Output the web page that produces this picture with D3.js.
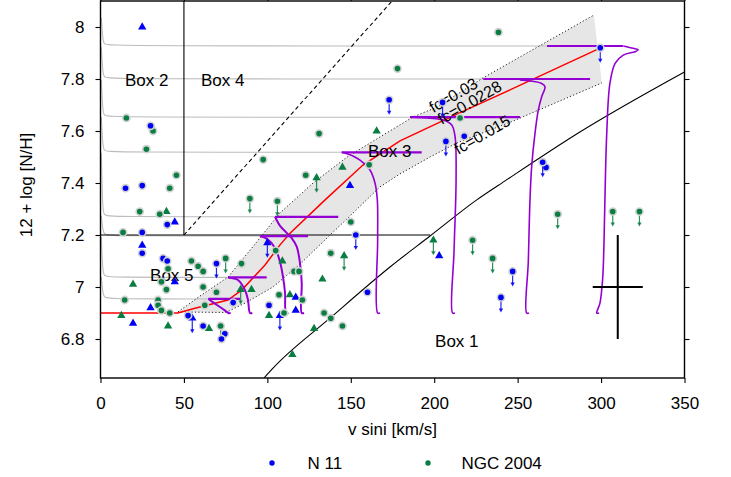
<!DOCTYPE html>
<html><head><meta charset="utf-8">
<script src="https://cdn.jsdelivr.net/npm/d3@7"></script>
<style>body{margin:0;background:#fff}svg{display:block;font-family:"Liberation Sans",Arial,Helvetica,sans-serif}</style>
</head><body><svg id="c" width="731" height="477"></svg>
<script>
// ---------- data ----------
const xTicks=[0,50,100,150,200,250,300,350];
const yTicks=[6.8,7,7.2,7.4,7.6,7.8,8];
const seriesNames=["N 11","NGC 2004"];

const n11Dots=[[30,7.62],[15,7.38],[25,7.39],[40,7.24],[25,7.21],[25,7.13],[37.5,7.11],[40,7.10],[52.5,6.89],[61.5,6.85],[74.5,6.82],[72.5,6.80],[79.5,6.94],[101,6.93],[160,6.98],[218,7.58],[267,7.46]];
const n11DotsUL=[[69.5,7.09],[153,7.20],[173,7.72],[205,7.71],[207,7.56],[247,7.06],[240,6.96],[299.5,7.92],[265,7.48]];
const n11Tri=[[25,8.0],[44.5,7.25],[25,7.16],[44.5,7.02],[30,6.92],[19.5,6.86],[149.5,7.39],[203,7.12],[117,6.96],[117,6.91]];
const n11TriUL=[[55,6.88],[100,7.17],[107.5,6.89]];

const ngcDots=[[15.5,7.65],[31.5,7.60],[27.5,7.53],[97.5,7.49],[45.5,7.43],[41.5,7.38],[23.5,7.29],[35.5,7.28],[13.5,7.21],[54.5,7.10],[58.5,7.08],[61.5,7.06],[84.5,7.09],[40.5,7.07],[36.5,7.02],[39.5,6.99],[61.5,7.00],[69.5,6.98],[14.5,6.95],[34.5,6.95],[34.5,6.93],[36.5,6.91],[41.5,6.90],[62.5,6.93],[105,7.14],[116,7.06],[119,7.06],[107,6.97],[110,6.90],[121,6.95],[134,6.90],[138,6.88],[145,6.85],[138,7.13],[150,7.25],[161,7.47],[123,7.43],[131,7.59],[178,7.84],[215.5,7.65],[238.5,7.98]];
const ngcDotsUL=[[89.5,7.34],[106,7.33],[75,7.11],[72,6.85],[223,7.18],[235,7.11],[274,7.28],[307,7.29],[323,7.29]];
const ngcTri=[[39.5,7.29],[19.5,7.01],[12.5,6.89],[40.5,6.85],[65,6.84],[90.5,6.99],[109,7.10],[113.5,6.97],[101,6.89],[133,7.03],[128,6.84],[115,6.74],[145,7.46],[165.5,7.60]];
const ngcTriUL=[[84,6.99],[129.5,7.42],[146,7.12],[199.5,7.18]];

// evolutionary tracks
const trackLevel=[6.954,7.037,7.196,7.270,7.518,7.653,7.80,7.927];
const trackPurpleH=[[64.6,83.6],[76.6,99.6],[95.6,124.4],[104.6,142.5],[144.6,192.5],[185.5,251.4],[229.4,293.4],[267.6,313.1]];
const greyTop=[7.038,7.192,7.273,7.515,7.654,7.796,7.923,8.035];
const trackCurves=[
 [[64.6,6.954],[70,6.93],[74.5,6.91],[76.6,6.9],[78,6.9]],
 [[76.4,7.037],[82.4,7.027],[86.6,6.988],[88.4,6.95],[89.6,6.9],[91,6.9]],
 [[95.6,7.196],[99.8,7.185],[104.6,7.15],[107.6,7.096],[109.4,7.038],[110.6,6.977],[111.2,6.9],[112.6,6.9]],
 [[104.6,7.27],[107.6,7.235],[111.6,7.208],[114.6,7.188],[117.6,7.155],[119.6,7.09],[120.6,7.015],[120.6,6.9],[122,6.9]],
 [[144.6,7.518],[151.3,7.504],[155.5,7.488],[161.5,7.45],[164.5,7.40],[165.9,7.335],[166.1,7.181],[166.1,6.9],[167.5,6.9]],
 [[185.5,7.653],[197.5,7.649],[205.3,7.642],[210.5,7.623],[212.5,7.578],[213.1,7.412],[211.9,7.142],[211,6.9],[212.4,6.9]],
 [[251.3,7.796],[264.4,7.783],[266.4,7.77],[264.4,7.732],[262.4,7.681],[260.4,7.591],[258.4,7.463],[257.4,7.335],[256.4,7.1],[255.4,6.9],[256.8,6.9]],
 [[313.3,7.927],[319.3,7.918],[322.3,7.912],[320.4,7.905],[313.3,7.892],[308.4,7.86],[305.3,7.783],[303.4,7.591],[302.3,7.335],[301.7,7.155],[300.9,7.027],[299.3,6.937],[297.4,6.9],[298.8,6.9]]
];

// fc band and central relation
const bandUpper=[[46.4,6.904],[59.6,6.965],[76.4,7.038],[92.6,7.165],[107.6,7.285],[127.4,7.40],[147.8,7.50],[167.5,7.577],[187.3,7.654],[201.7,7.692],[229.2,7.804],[295.7,8.046]];
const bandLower=[[46.4,6.904],[75.2,6.902],[86.6,6.938],[103.4,7.0],[119.6,7.088],[137.6,7.20],[149.5,7.273],[167.5,7.385],[179.5,7.435],[197.5,7.50],[213.6,7.554],[247.2,7.638],[300.5,7.785]];
const fcMid=[[0,6.9],[46.4,6.9],[56.6,6.918],[76.4,6.95],[84.8,6.989],[98.6,7.085],[107.6,7.162],[113.6,7.207],[134.6,7.335],[157.3,7.469],[179.5,7.562],[204.7,7.638],[221.5,7.688],[245.4,7.758],[299.4,7.919]];

// box boundaries
const box1Curve=[[98,6.65],[103.4,6.688],[137.5,6.88],[173.5,7.077],[197.5,7.196],[225.5,7.335],[243.4,7.412],[287.3,7.596],[350,7.827]];
const boxHLine=[[0,7.2],[197.5,7.2]];
const boxVLine=[[50,7.2],[50,8.1]];
const boxDashed=[[50,7.2],[174.7,8.1]];
const errCenter=[310,7.0];
const errHalf=[15,0.2];

const boxLabels=[["Box 1",200.5,6.769],["Box 2",14.7,7.773],["Box 3",160.3,7.5],["Box 4",60.2,7.773],["Box 5",29.7,7.023]];
const fcLabels=[["fc=0.03",199.4,7.668],["fc=0.0228",204.5,7.623],["fc=0.015",214.4,7.508]];

// ---------- drawing ----------
const svg=d3.select("#c");
const L=100.5,R=684.5,T=1,B=378;
const x=d3.scaleLinear().domain([0,350]).range([L,R]);
const y=d3.scaleLinear().domain([6.65,8.1]).range([B,T]);
const BLUE="#0000f5", GREEN="#0a7d42", PURPLE="#9400d3";

svg.append("defs").append("clipPath").attr("id","clip")
  .append("rect").attr("x",L).attr("y",T).attr("width",R-L).attr("height",B-T);
const g=svg.append("g").attr("clip-path","url(#clip)");
const line=d3.line().x(d=>x(d[0])).y(d=>y(d[1]));

// band
const bandPoly=bandUpper.concat(bandLower.slice().reverse());
g.append("path").attr("d",line(bandPoly)+"Z").attr("fill","#e6e6e6").attr("stroke","none");

// grey track continuations
trackLevel.forEach((n,i)=>{
  const pts=[[trackPurpleH[i][0],n],[5,n],[2,n+0.006],[1.3,n+0.03],[0.5,greyTop[i]]];
  g.append("path").attr("d",d3.line().x(d=>x(d[0])).y(d=>y(d[1])).curve(d3.curveBasis)(pts))
   .attr("fill","none").attr("stroke","#bcbcbc").attr("stroke-width",1.1);
});

// box lines
g.append("path").attr("fill","none").attr("stroke","#000").attr("stroke-width",1.1)
  .attr("d",d3.line().x(d=>x(d[0])).y(d=>y(d[1])).curve(d3.curveMonotoneX)(box1Curve));
g.append("path").attr("d",line(boxHLine)).attr("stroke","#000").attr("stroke-width",1.1);
g.append("path").attr("d",line(boxVLine)).attr("stroke","#000").attr("stroke-width",1.1);
g.append("path").attr("d",line(boxDashed)).attr("stroke","#000").attr("stroke-width",1.1).attr("stroke-dasharray","4,3");

// dotted band edges
[bandUpper,bandLower].forEach(b=>{
  g.append("path").attr("d",line(b)).attr("fill","none").attr("stroke","#222").attr("stroke-width",1).attr("stroke-dasharray","1.2,2.2");
});

// central relation
g.append("path").attr("d",line(fcMid)).attr("fill","none").attr("stroke","#ff0000").attr("stroke-width",1.5);

// purple tracks
trackLevel.forEach((n,i)=>{
  g.append("path").attr("d",line([[trackPurpleH[i][0],n],[trackPurpleH[i][1],n]]))
   .attr("stroke",PURPLE).attr("stroke-width",2.2);
  g.append("path").attr("d",d3.line().x(d=>x(d[0])).y(d=>y(d[1])).curve(d3.curveCatmullRom.alpha(0.5))(trackCurves[i]))
   .attr("fill","none").attr("stroke",PURPLE).attr("stroke-width",i<4?2:1.6);
});

// error cross
g.append("path").attr("d",line([[errCenter[0],errCenter[1]-errHalf[1]],[errCenter[0],errCenter[1]+errHalf[1]]])).attr("stroke","#000").attr("stroke-width",2);
g.append("path").attr("d",line([[errCenter[0]-errHalf[0],errCenter[1]],[errCenter[0]+errHalf[0],errCenter[1]]])).attr("stroke","#000").attr("stroke-width",2);

// texts in plot
boxLabels.forEach(b=>{
  g.append("text").attr("x",x(b[1])).attr("y",y(b[2])).attr("font-size",17).attr("fill","#000").text(b[0]);
});
fcLabels.forEach(b=>{
  g.append("text").attr("transform",`translate(${x(b[1])},${y(b[2])}) rotate(-30)`).attr("font-size",16).attr("fill","#000").text(b[0]);
});

// markers
const pg=svg.append("g").attr("clip-path","url(#clip)");
function arrow(px,py,col){
  pg.append("line").attr("x1",px).attr("x2",px).attr("y1",py+2).attr("y2",py+13)
    .attr("stroke",col).attr("stroke-width",1.2).attr("opacity",0.85);
  pg.append("path").attr("d",`M${px-2.2},${py+11}L${px+2.2},${py+11}L${px},${py+15}Z`).attr("fill",col).attr("opacity",0.85);
}
function dots(arr,col,ul){
  arr.forEach(d=>{
    const px=x(d[0]),py=y(d[1]);
    if(ul) arrow(px,py,col);
    pg.append("circle").attr("cx",px).attr("cy",py).attr("r",3.6)
      .attr("fill",col).attr("stroke","#d2d2d2").attr("stroke-width",1.6);
  });
}
const tri=d3.symbol().type(d3.symbolTriangle).size(30);
function tris(arr,col,ul){
  arr.forEach(d=>{
    const px=x(d[0]),py=y(d[1]);
    if(ul) arrow(px,py,col);
    pg.append("path").attr("d",tri()).attr("transform",`translate(${px},${py})`).attr("fill",col);
  });
}
tris(ngcTri,GREEN,false); tris(ngcTriUL,GREEN,true);
tris(n11Tri,BLUE,false); tris(n11TriUL,BLUE,true);
dots(ngcDots,GREEN,false); dots(ngcDotsUL,GREEN,true);
dots(n11Dots,BLUE,false); dots(n11DotsUL,BLUE,true);

// axes
const fs=17;
const ax=svg.append("g").attr("transform",`translate(0,${B})`).call(d3.axisBottom(x).tickValues(xTicks).tickSize(5).tickPadding(14).tickSizeOuter(0).tickFormat(d3.format("d")));
const ayl=svg.append("g").attr("transform",`translate(${L},0)`).call(d3.axisLeft(y).tickValues(yTicks).tickSize(5).tickPadding(11).tickSizeOuter(0).tickFormat(d=>String(+d.toFixed(1))));
const at=svg.append("g").attr("transform",`translate(0,${T})`).call(d3.axisTop(x).tickValues(xTicks).tickSize(5).tickSizeOuter(0).tickFormat(""));
const ar=svg.append("g").attr("transform",`translate(${R},0)`).call(d3.axisRight(y).tickValues(yTicks).tickSize(5).tickSizeOuter(0).tickFormat(""));
[ax,ayl,at,ar].forEach(a=>{
  a.select(".domain").remove();
  a.selectAll("line").attr("stroke","#000").attr("stroke-width",1.1);
  a.selectAll("text").attr("font-size",fs).attr("fill","#000").attr("font-family",'"Liberation Sans",Arial,sans-serif');
});

// frame
svg.append("rect").attr("x",L).attr("y",T).attr("width",R-L).attr("height",B-T)
  .attr("fill","none").attr("stroke","#000").attr("stroke-width",1.4);

// axis titles
svg.append("text").attr("x",(L+R)/2).attr("y",435).attr("text-anchor","middle").attr("font-size",fs).text("v sini [km/s]");
svg.append("text").attr("transform","translate(31.5,185) rotate(-90)").attr("text-anchor","middle").attr("font-size",fs).text("12 + log [N/H]");

// legend
const legX=[272,428], legTX=[307.5,461.5];
[BLUE,GREEN].forEach((c,i)=>{
  svg.append("circle").attr("cx",legX[i]).attr("cy",463).attr("r",2.7).attr("fill",c);
  svg.append("text").attr("x",legTX[i]).attr("y",469).attr("font-size",fs).text(seriesNames[i]);
});
</script></body></html>
